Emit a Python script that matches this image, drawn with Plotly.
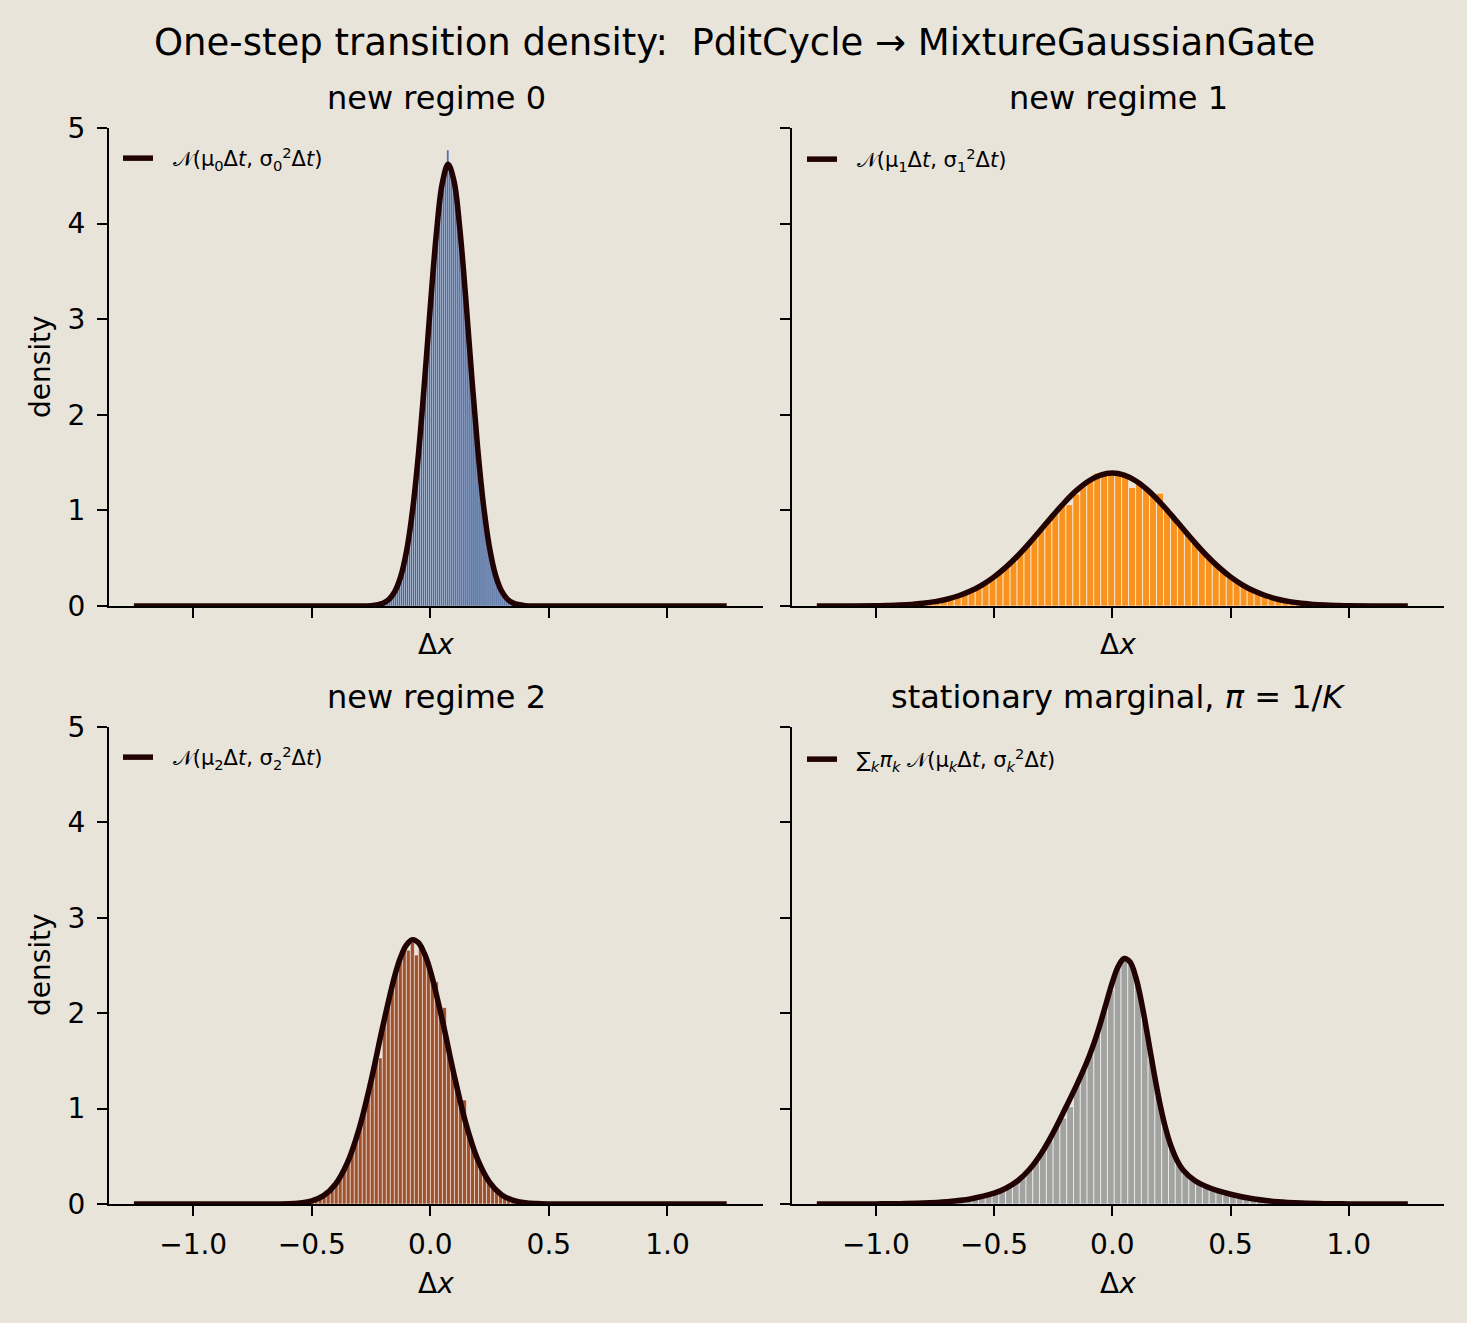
import plotly.graph_objects as go

BG = "#e8e4da"
INK = "#220303"
FONT = "DejaVu Sans"

# ---------------- histogram bins (80 equal-width bins per panel) ----------------
r0_edge = -0.262
r0_width = 0.0085
r0_heights = [
    0.003, 0.004, 0.005, 0.008, 0.011, 0.016, 0.022, 0.030, 0.040, 0.054,
    0.073, 0.096, 0.126, 0.163, 0.209, 0.266, 0.335, 0.417, 0.516, 0.630,
    0.765, 0.916, 1.089, 1.281, 1.492, 1.722, 1.969, 2.227, 2.497, 2.740,
    3.048, 3.319, 3.578, 3.860, 4.041, 4.231, 4.360, 4.507, 4.585, 4.770,
    4.608, 4.580, 4.455, 4.317, 4.100, 3.937, 3.706, 3.490, 3.189, 2.916,
    2.640, 2.367, 2.102, 1.849, 1.610, 1.389, 1.186, 1.003, 0.841, 0.697,
    0.573, 0.467, 0.376, 0.300, 0.237, 0.186, 0.144, 0.110, 0.084, 0.063,
    0.047, 0.035, 0.025, 0.018, 0.013, 0.009, 0.007, 0.005, 0.003, 0.002,
]

r1_edge = -1.17
r1_width = 0.0295
r1_heights = [
    0.000, 0.001, 0.001, 0.001, 0.002, 0.003, 0.004, 0.006, 0.008, 0.011,
    0.016, 0.021, 0.028, 0.037, 0.049, 0.064, 0.082, 0.104, 0.131, 0.162,
    0.200, 0.243, 0.293, 0.350, 0.413, 0.482, 0.557, 0.636, 0.720, 0.806,
    0.880, 0.978, 1.060, 1.060, 1.170, 1.269, 1.319, 1.390, 1.380, 1.390,
    1.385, 1.365, 1.240, 1.310, 1.228, 1.161, 1.180, 1.005, 0.920, 0.833,
    0.747, 0.663, 0.582, 0.505, 0.434, 0.369, 0.311, 0.259, 0.213, 0.174,
    0.140, 0.112, 0.088, 0.069, 0.053, 0.041, 0.031, 0.023, 0.017, 0.013,
    0.009, 0.007, 0.005, 0.003, 0.002, 0.002, 0.001, 0.001, 0.001, 0.000,
]

r2_edge = -0.76
r2_width = 0.0169
r2_heights = [
    0.000, 0.000, 0.000, 0.001, 0.001, 0.001, 0.001, 0.002, 0.002, 0.003,
    0.005, 0.008, 0.012, 0.017, 0.024, 0.035, 0.049, 0.068, 0.093, 0.125,
    0.166, 0.218, 0.282, 0.360, 0.453, 0.563, 0.689, 0.833, 0.992, 1.166,
    1.351, 1.544, 1.530, 1.937, 2.124, 2.297, 2.452, 2.580, 2.678, 2.660,
    2.740, 2.610, 2.710, 2.625, 2.509, 2.365, 2.330, 2.017, 2.060, 1.627,
    1.432, 1.243, 1.064, 1.090, 0.748, 0.614, 0.498, 0.398, 0.313, 0.244,
    0.187, 0.141, 0.105, 0.078, 0.056, 0.040, 0.028, 0.020, 0.014, 0.009,
    0.006, 0.004, 0.003, 0.002, 0.001, 0.001, 0.000, 0.000, 0.000, 0.000,
]

mix_edge = -1.14
mix_width = 0.0287
mix_heights = [
    0.000, 0.000, 0.001, 0.001, 0.001, 0.001, 0.002, 0.003, 0.004, 0.005,
    0.006, 0.009, 0.011, 0.015, 0.019, 0.025, 0.032, 0.040, 0.050, 0.062,
    0.077, 0.095, 0.118, 0.146, 0.183, 0.229, 0.288, 0.361, 0.451, 0.558,
    0.681, 0.815, 0.900, 1.020, 1.252, 1.408, 1.583, 1.789, 2.026, 2.240,
    2.476, 2.574, 2.514, 2.287, 1.933, 1.523, 1.134, 0.815, 0.581, 0.430,
    0.327, 0.263, 0.219, 0.186, 0.158, 0.135, 0.114, 0.096, 0.080, 0.066,
    0.054, 0.043, 0.035, 0.027, 0.022, 0.017, 0.013, 0.010, 0.007, 0.006,
    0.004, 0.003, 0.002, 0.002, 0.001, 0.001, 0.001, 0.000, 0.000, 0.000,
]

# ---------------- density curves ----------------
c0_x = [-1.25, -0.75, -0.5, -0.35, -0.3, -0.25, -0.2, -0.175, -0.15, -0.125, -0.1,
        -0.075, -0.05, -0.025, 0.0, 0.025, 0.05, 0.075, 0.1, 0.125, 0.15, 0.175,
        0.2, 0.225, 0.25, 0.275, 0.3, 0.325, 0.35, 0.4, 0.45, 0.5, 0.75, 1.25]
c0_y = [0.0, 0.0, 0.0, 0.0, 0.0004, 0.004, 0.028, 0.067, 0.150, 0.307, 0.578,
        0.999, 1.591, 2.329, 3.135, 3.880, 4.415, 4.620, 4.445, 3.932, 3.200, 2.393,
        1.646, 1.041, 0.606, 0.323, 0.159, 0.072, 0.030, 0.004, 0.0, 0.0, 0.0, 0.0]

c1_x = [-1.25, -1.1, -1.0, -0.95, -0.9, -0.85, -0.8, -0.75, -0.7, -0.65, -0.6,
        -0.55, -0.5, -0.45, -0.4, -0.35, -0.3, -0.25, -0.2, -0.15, -0.1, -0.05,
        0.0, 0.05, 0.1, 0.15, 0.2, 0.25, 0.3, 0.35, 0.4, 0.45, 0.5, 0.55, 0.6,
        0.65, 0.7, 0.75, 0.8, 0.85, 0.9, 0.95, 1.0, 1.1, 1.25]
c1_y = [0.0, 0.001, 0.003, 0.006, 0.010, 0.017, 0.029, 0.046, 0.071, 0.107, 0.156,
        0.222, 0.305, 0.407, 0.526, 0.661, 0.805, 0.951, 1.090, 1.212, 1.308, 1.369,
        1.390, 1.369, 1.308, 1.212, 1.090, 0.951, 0.805, 0.661, 0.526, 0.407, 0.305,
        0.222, 0.156, 0.107, 0.071, 0.046, 0.029, 0.017, 0.010, 0.006, 0.003, 0.001, 0.0]

c2_x = [-1.25, -0.9, -0.7, -0.6, -0.55, -0.5, -0.45, -0.4, -0.35, -0.3, -0.25,
        -0.2, -0.15, -0.125, -0.1, -0.075, -0.05, -0.025, 0.0, 0.05, 0.1, 0.15,
        0.2, 0.25, 0.3, 0.35, 0.4, 0.45, 0.5, 0.6, 0.9, 1.25]
c2_y = [0.0, 0.0, 0.0002, 0.003, 0.011, 0.033, 0.088, 0.207, 0.430, 0.791, 1.290,
        1.866, 2.392, 2.589, 2.718, 2.770, 2.738, 2.626, 2.445, 1.935, 1.357, 0.844,
        0.465, 0.227, 0.098, 0.038, 0.013, 0.004, 0.001, 0.0, 0.0, 0.0]

cm_x = [-1.25, -1.0, -0.9, -0.8, -0.7, -0.6, -0.5, -0.45, -0.4, -0.35, -0.3, -0.25,
        -0.2, -0.15, -0.125, -0.1, -0.075, -0.05, -0.025, 0.0, 0.025, 0.05, 0.075,
        0.1, 0.125, 0.15, 0.175, 0.2, 0.225, 0.25, 0.275, 0.3, 0.35, 0.4, 0.5, 0.6,
        0.7, 0.8, 0.9, 1.0, 1.25]
cm_y = [0.0, 0.001, 0.003, 0.010, 0.024, 0.053, 0.113, 0.165, 0.244, 0.364, 0.532, 0.748,
        0.995, 1.251, 1.387, 1.535, 1.704, 1.899, 2.113, 2.323, 2.491, 2.573, 2.536,
        2.370, 2.094, 1.752, 1.394, 1.067, 0.798, 0.595, 0.451, 0.354, 0.243, 0.181, 0.102, 0.052,
        0.024, 0.010, 0.003, 0.001, 0.0]

GAP = "\u2002\u2009"  # room between legend line and text
panels = [
    dict(edge=r0_edge, w=r0_width, h=r0_heights, cx=c0_x, cy=c0_y, color="#46659a",
         edge_w=0.3, ax="x", ay="y", legend="legend",
         label=GAP + "𝒩(μ<sub>0</sub>Δ<i>t</i>, σ<sub>0</sub><sup>2</sup>Δ<i>t</i>)"),
    dict(edge=r1_edge, w=r1_width, h=r1_heights, cx=c1_x, cy=c1_y, color="#f7931e",
         edge_w=0.6, ax="x2", ay="y2", legend="legend2",
         label=GAP + "𝒩(μ<sub>1</sub>Δ<i>t</i>, σ<sub>1</sub><sup>2</sup>Δ<i>t</i>)"),
    dict(edge=r2_edge, w=r2_width, h=r2_heights, cx=c2_x, cy=c2_y, color="#a0522d",
         edge_w=0.5, ax="x3", ay="y3", legend="legend3",
         label=GAP + "𝒩(μ<sub>2</sub>Δ<i>t</i>, σ<sub>2</sub><sup>2</sup>Δ<i>t</i>)"),
    dict(edge=mix_edge, w=mix_width, h=mix_heights, cx=cm_x, cy=cm_y, color="#a2a2a0",
         edge_w=0.6, ax="x4", ay="y4", legend="legend4",
         label=GAP + "∑<sub><i>k</i></sub><i>π<sub>k</sub></i> 𝒩(μ<sub><i>k</i></sub>Δ<i>t</i>, σ<sub><i>k</i></sub><sup>2</sup>Δ<i>t</i>)"),
]

fig = go.Figure()
for p in panels:
    centers = [p["edge"] + p["w"] * (i + 0.5) for i in range(len(p["h"]))]
    fig.add_trace(go.Bar(
        x=centers, y=p["h"], width=p["w"],
        marker=dict(color=p["color"], line=dict(color="white", width=p["edge_w"])),
        xaxis=p["ax"], yaxis=p["ay"], showlegend=False,
    ))
    fig.add_trace(go.Scatter(
        x=p["cx"], y=p["cy"], mode="lines", name=p["label"],
        line=dict(color=INK, width=5.5, shape="spline"),
        xaxis=p["ax"], yaxis=p["ay"], legend=p["legend"],
    ))

W, H = 1467, 1323
xdom_l = [109 / W, 763 / W]
xdom_r = [792 / W, 1444 / W]
ydom_t = [1 - 606 / H, 1 - 128 / H]
ydom_b = [1 - 1204 / H, 1 - 727 / H]

axis_common = dict(showline=True, linecolor="black", linewidth=2.2, ticks="outside",
                   ticklen=10, tickwidth=2.2, tickcolor="black", showgrid=False,
                   zeroline=False, automargin=False,
                   tickfont=dict(size=28, color="black", family=FONT))
xr = [-1.355, 1.403]
xt = dict(range=xr, dtick=0.5, tick0=0, tickformat=".1f", ticklabelstandoff=4)
yt = dict(range=[0, 5], dtick=1, ticklabelstandoff=6)

fig.update_layout(
    xaxis=dict(domain=xdom_l, anchor="y", showticklabels=False, **xt, **axis_common),
    xaxis2=dict(domain=xdom_r, anchor="y2", showticklabels=False, **xt, **axis_common),
    xaxis3=dict(domain=xdom_l, anchor="y3", **xt, **axis_common),
    xaxis4=dict(domain=xdom_r, anchor="y4", **xt, **axis_common),
    yaxis=dict(domain=ydom_t, anchor="x", **yt, **axis_common),
    yaxis2=dict(domain=ydom_t, anchor="x2", showticklabels=False, **yt, **axis_common),
    yaxis3=dict(domain=ydom_b, anchor="x3", **yt, **axis_common),
    yaxis4=dict(domain=ydom_b, anchor="x4", showticklabels=False, **yt, **axis_common),
)

leg_common = dict(bgcolor="rgba(0,0,0,0)", borderwidth=0, xanchor="left", yanchor="top",
                  font=dict(size=21, color="black", family=FONT))
fig.update_layout(
    legend=dict(x=118 / W, y=1 - 138 / H, **leg_common),
    legend2=dict(x=802 / W, y=1 - 139 / H, **leg_common),
    legend3=dict(x=118 / W, y=1 - 737 / H, **leg_common),
    legend4=dict(x=802 / W, y=1 - 739 / H, **leg_common),
)

annos = [
    dict(text="One-step transition density:  PditCycle → MixtureGaussianGate",
         x=734 / W, y=1 - 42 / H, size=37),
    dict(text="new regime 0", x=436 / W, y=1 - 98 / H, size=32),
    dict(text="new regime 1", x=1118 / W, y=1 - 98 / H, size=32),
    dict(text="new regime 2", x=436 / W, y=1 - 697 / H, size=32),
    dict(text="stationary marginal, <i>π</i> = 1/<i>K</i>", x=1118 / W, y=1 - 697 / H, size=32),
    dict(text="Δ<i>x</i>", x=436 / W, y=1 - 645 / H, size=28),
    dict(text="Δ<i>x</i>", x=1118 / W, y=1 - 645 / H, size=28),
    dict(text="Δ<i>x</i>", x=436 / W, y=1 - 1283 / H, size=28),
    dict(text="Δ<i>x</i>", x=1118 / W, y=1 - 1283 / H, size=28),
]
for a in annos:
    fig.add_annotation(text=a["text"], x=a["x"], y=a["y"], xref="paper", yref="paper",
                       showarrow=False, xanchor="center", yanchor="middle",
                       font=dict(size=a["size"], color="black", family=FONT))
for yc in [367, 965]:
    fig.add_annotation(text="density", x=40 / W, y=1 - yc / H, xref="paper", yref="paper",
                       showarrow=False, textangle=-90, xanchor="center", yanchor="middle",
                       font=dict(size=28, color="black", family=FONT))

fig.update_layout(
    width=W, height=H,
    margin=dict(l=0, r=0, t=0, b=0, pad=0, autoexpand=False),
    paper_bgcolor=BG, plot_bgcolor=BG,
    font=dict(family=FONT, color="black"),
    barmode="overlay",
)

page_fix = ("document.body.style.margin='0';document.body.style.overflow='hidden';"
            "document.body.style.background='" + BG + "';")
fig.write_html("out.html", config={"responsive": False, "displayModeBar": False},
               post_script=page_fix)
